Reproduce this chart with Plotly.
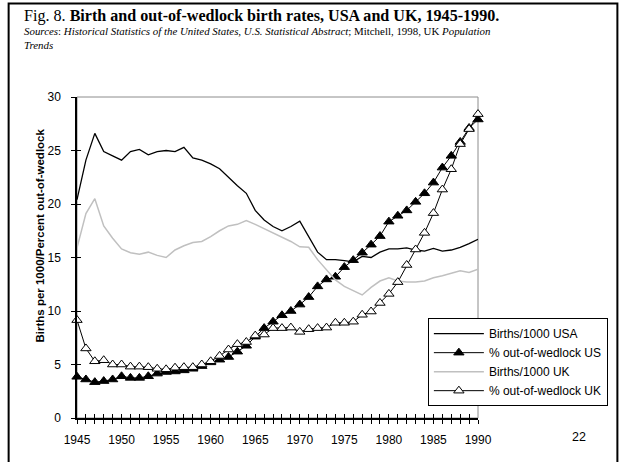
import plotly.graph_objects as go

# Anos e séries
anos = list(range(1945, 1991))

nasc_eua = [20.4, 24.1, 26.6, 24.9, 24.5, 24.1, 24.9, 25.1, 24.6, 24.9,
            25.0, 24.9, 25.3, 24.3, 24.1, 23.75, 23.3, 22.5, 21.7, 21.0,
            19.4, 18.5, 17.9, 17.5, 17.9, 18.4, 17.0, 15.5, 14.8, 14.8,
            14.7, 14.6, 15.1, 15.0, 15.5, 15.8, 15.8, 15.9, 15.7, 15.6,
            15.85, 15.6, 15.7, 15.95, 16.3, 16.7]

fora_casamento_eua = [3.85, 3.6, 3.35, 3.45, 3.6, 3.9, 3.75, 3.75, 3.9, 4.15,
                      4.3, 4.35, 4.45, 4.6, 4.85, 5.2, 5.45, 5.7, 6.2, 6.75,
                      7.6, 8.4, 9.0, 9.6, 10.0, 10.6, 11.3, 12.3, 12.95, 13.2,
                      14.1, 14.75, 15.45, 16.2, 17.0, 18.35, 18.9, 19.4, 20.2, 21.0,
                      22.0, 23.4, 24.5, 25.8, 27.1, 27.9]

nasc_uk = [15.9, 19.1, 20.5, 17.95, 16.8, 15.8, 15.45, 15.3, 15.5, 15.2,
           15.0, 15.7, 16.1, 16.4, 16.5, 16.95, 17.5, 17.95, 18.1, 18.45,
           18.1, 17.7, 17.25, 16.85, 16.5, 16.0, 15.95, 14.8, 13.8, 12.9,
           12.3, 11.9, 11.5, 12.2, 12.8, 13.1, 12.8, 12.7, 12.7, 12.8,
           13.1, 13.3, 13.5, 13.75, 13.6, 13.9]

fora_casamento_uk = [9.15, 6.5, 5.3, 5.4, 5.0, 5.0, 4.8, 4.8, 4.75, 4.6,
                     4.55, 4.7, 4.75, 4.75, 5.0, 5.3, 5.8, 6.4, 6.9, 7.1,
                     7.7, 7.8, 8.4, 8.4, 8.45, 8.05, 8.3, 8.4, 8.45, 8.9,
                     8.9, 9.0, 9.65, 9.95, 10.75, 11.6, 12.7, 14.3, 15.75, 17.3,
                     19.15, 21.35, 23.25, 25.6, 27.0, 28.4]

rotulos_x = [str(a) if a % 5 == 0 else "" for a in anos]
ticks_y = [0, 5, 10, 15, 20, 25, 30]

serif = "Liberation Serif"
sans = "Liberation Sans"

fig = go.Figure()

fig.add_trace(go.Scatter(
    x=anos, y=nasc_eua, name="Births/1000 USA", mode="lines",
    line=dict(color="black", width=1.3), cliponaxis=False
))
fig.add_trace(go.Scatter(
    x=anos, y=fora_casamento_eua, name="% out-of-wedlock US", mode="lines+markers",
    line=dict(color="black", width=1),
    marker=dict(symbol="triangle-up", size=9, color="black",
                line=dict(color="black", width=1)),
    cliponaxis=False
))
fig.add_trace(go.Scatter(
    x=anos, y=nasc_uk, name="Births/1000 UK", mode="lines",
    line=dict(color="#c0c0c0", width=1.5), cliponaxis=False
))
fig.add_trace(go.Scatter(
    x=anos, y=fora_casamento_uk, name="% out-of-wedlock UK", mode="lines+markers",
    line=dict(color="black", width=1),
    marker=dict(symbol="triangle-up", size=9, color="white",
                line=dict(color="black", width=1)),
    cliponaxis=False
))

# traço vazio para os eixos sobrepostos (ticks cruzados)
fig.add_trace(go.Scatter(x=[], y=[], xaxis="x2", yaxis="y2", showlegend=False))

fig.update_layout(
    width=620, height=462,
    margin=dict(l=77, r=142, t=97, b=44),
    paper_bgcolor="white", plot_bgcolor="white",
    font=dict(family=sans, size=12, color="black"),
    showlegend=True,
    legend=dict(
        x=0.875, y=0.311, xanchor="left", yanchor="top",
        bgcolor="white", bordercolor="black", borderwidth=1,
        font=dict(family=sans, size=12, color="black"),
        itemwidth=50, tracegroupgap=0
    ),
    xaxis=dict(
        range=[1945, 1990], tickvals=anos, ticktext=rotulos_x,
        ticks="outside", ticklen=4, tickcolor="black", tickwidth=1,
        showline=True, linecolor="black", linewidth=1.5,
        showgrid=False, zeroline=False,
        tickfont=dict(family=sans, size=12), ticklabelstandoff=6
    ),
    yaxis=dict(
        range=[0, 30], tickvals=ticks_y,
        ticks="outside", ticklen=4, tickcolor="black", tickwidth=1,
        showline=True, linecolor="black", linewidth=1.5,
        showgrid=False, zeroline=False,
        tickfont=dict(family=sans, size=12), ticklabelstandoff=8
    ),
    xaxis2=dict(
        range=[1945, 1990], overlaying="x", anchor="y2", tickvals=anos,
        ticks="inside", ticklen=4, tickcolor="black", showticklabels=False,
        showline=False, showgrid=False, zeroline=False
    ),
    yaxis2=dict(
        range=[0, 30], overlaying="y", anchor="x2", tickvals=ticks_y,
        ticks="inside", ticklen=4, tickcolor="black", showticklabels=False,
        showline=False, showgrid=False, zeroline=False
    ),
    shapes=[
        # moldura cinza da área do gráfico
        dict(type="rect", xref="paper", yref="paper", x0=0, x1=1, y0=0, y1=1,
             line=dict(color="#8c8c8c", width=1), layer="below"),
        # borda do slide
        dict(type="rect", xref="paper", yref="paper",
             x0=-0.1705, x1=1.3476, y0=-0.2, y1=1.291,
             line=dict(color="black", width=2), layer="below"),
    ],
    annotations=[
        dict(text="Fig. 8. <b>Birth and out-of-wedlock birth rates, USA and UK, 1945-1990.</b>",
             xref="paper", yref="paper", x=-0.138, y=1.2535, xanchor="left", yanchor="middle",
             showarrow=False, font=dict(family=serif, size=16.1, color="black")),
        dict(text="<i>Sources</i>: <i>Historical Statistics of the United States, U.S. Statistical Abstract</i>; "
                  "Mitchell, 1998, UK <i>Population</i><br><i>Trends</i>",
             xref="paper", yref="paper", x=-0.138, y=1.23, xanchor="left", yanchor="top",
             align="left", showarrow=False, font=dict(family=serif, size=10.9, color="black")),
        dict(text="<b>Births per 1000/Percent out-of-wedlock</b>",
             xref="paper", yref="paper", x=-0.093, y=0.5675, xanchor="center", yanchor="middle",
             textangle=-90, showarrow=False, font=dict(family=sans, size=11.5, color="black")),
        dict(text="22", xref="paper", yref="paper", x=1.2527, y=-0.059,
             xanchor="center", yanchor="middle", showarrow=False,
             font=dict(family=sans, size=12.5, color="black")),
    ]
)

# sem a margem padrão do body, a figura ocupa a janela inteira
fig.write_html("out.html", config={"displayModeBar": False},
               post_script="document.body.style.margin = '0';")
